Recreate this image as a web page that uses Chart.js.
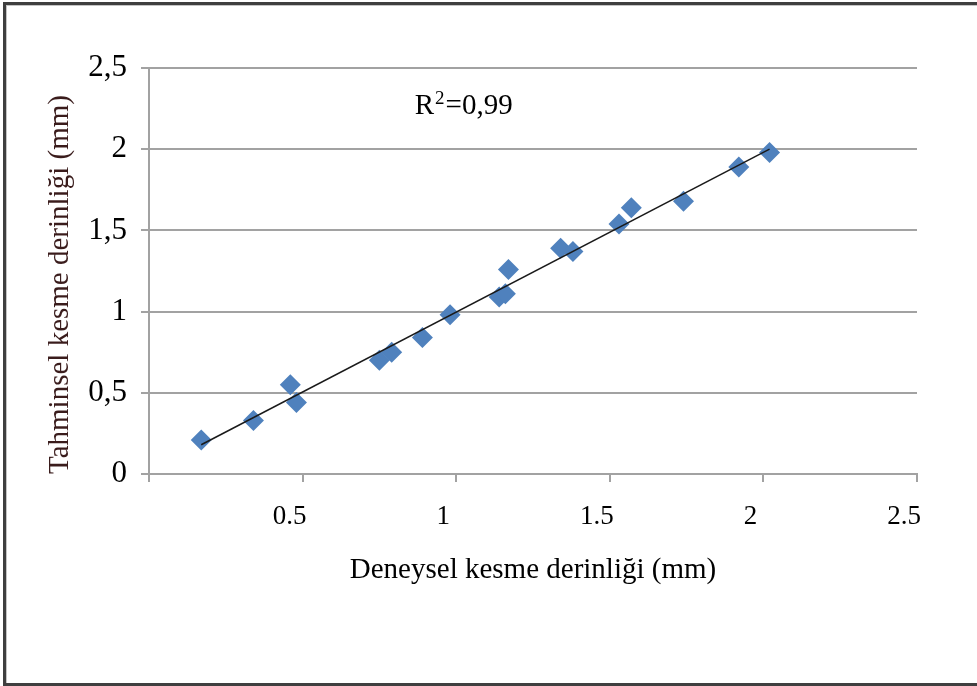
<!DOCTYPE html>
<html>
<head>
<meta charset="utf-8">
<script src="https://cdn.jsdelivr.net/npm/chart.js@4/dist/chart.umd.min.js"></script>
<style>
  html, body { margin:0; padding:0; background:#fff; }
  #wrap { width:977px; height:686px; position:relative; }
</style>
</head>
<body>
<div id="wrap"><canvas id="chartScatter" width="977" height="686"></canvas></div>
<script>
// ── DATA ──────────────────────────────────────────────
var deneysel  = [0.17, 0.34, 0.46, 0.48, 0.75, 0.79, 0.89, 0.98, 1.14, 1.16, 1.17, 1.34, 1.38, 1.53, 1.57, 1.74, 1.92, 2.02];
var tahminsel = [0.21, 0.33, 0.55, 0.44, 0.70, 0.75, 0.84, 0.98, 1.09, 1.11, 1.26, 1.39, 1.37, 1.54, 1.64, 1.68, 1.89, 1.98];
var trendX = [0.17, 2.02];
var trendY = [0.18, 2.00];
var xTickLabels = ['', '0.5', '1', '1.5', '2', '2.5'];
var yTickLabels = ['0', '0,5', '1', '1,5', '2', '2,5'];
var r2Text = '0,99';

var FONT = '"Liberation Serif", "Times New Roman", serif';
var GRID = '#a2a2a2';

function pts(xs, ys){
  return xs.map(function(x, i){ return { x:x, y:ys[i] }; });
}

// frame round the picture + R² note
var extras = {
  id:'extras',
  beforeDraw: function(chart){
    var ctx = chart.ctx;
    ctx.save();
    ctx.fillStyle = '#3f3f3f';
    ctx.fillRect(3, 2, 974, 3);
    ctx.fillRect(3, 2, 3, 684);
    ctx.fillRect(3, 683, 974, 3);
    ctx.fillStyle = '#c4c4c4';
    ctx.fillRect(6, 5, 971, 1);
    ctx.fillRect(6, 5, 1, 678);
    ctx.restore();
  },
  afterDraw: function(chart){
    var ctx = chart.ctx, xs = chart.scales.x, ys = chart.scales.y;
    var px = xs.getPixelForValue(0.865), py = ys.getPixelForValue(2.215);
    ctx.save();
    ctx.fillStyle = '#000';
    ctx.textBaseline = 'alphabetic';
    ctx.font = '29px ' + FONT;
    ctx.fillText('R', px, py);
    var w = ctx.measureText('R').width;
    ctx.font = '19px ' + FONT;
    ctx.fillText('2', px + w + 1, py - 10);
    var w2 = ctx.measureText('2').width;
    ctx.font = '29px ' + FONT;
    ctx.fillText('=' + r2Text, px + w + w2 + 2, py);
    ctx.restore();
  }
};

new Chart(document.getElementById('chartScatter'), {
  type:'scatter',
  data:{
    datasets:[
      { label:'Tahminsel', data:pts(deneysel, tahminsel), pointStyle:'rectRot', pointRadius:10.5, pointHoverRadius:10.5,
        backgroundColor:'#4f81bd', borderColor:'#4f81bd', borderWidth:0, order:2 },
      { label:'Trend', type:'line', data:pts(trendX, trendY), showLine:true, pointRadius:0,
        borderColor:'#1a1a1a', borderWidth:1.5, fill:false, order:1 }
    ]
  },
  plugins:[extras],
  options:{
    responsive:false, animation:false,
    layout:{ padding:{ left:43, top:68, right:60, bottom:98 } },
    plugins:{ legend:{ display:false }, tooltip:{ enabled:false } },
    scales:{
      x:{
        type:'linear', min:0, max:2.5,
        afterBuildTicks:function(s){ s.ticks = [0,0.5,1,1.5,2,2.5].map(function(v){ return {value:v}; }); },
        afterFit:function(s){ s.height = 114; },
        grid:{ drawOnChartArea:false, drawTicks:true, tickLength:8, color:GRID, lineWidth:2 },
        border:{ display:true, color:GRID, width:2 },
        ticks:{ color:'#000', padding:19, labelOffset:-13, maxRotation:0, autoSkip:false,
          font:{ family:FONT, size:27 },
          callback:function(v, i){ return xTickLabels[i]; } },
        title:{ display:true, text:'Deneysel kesme derinliği (mm)', color:'#000', padding:0,
          font:{ family:FONT, size:29 } }
      },
      y:{
        type:'linear', min:0, max:2.5,
        afterBuildTicks:function(s){ s.ticks = [0,0.5,1,1.5,2,2.5].map(function(v){ return {value:v}; }); },
        afterFit:function(s){ s.width = 106; },
        grid:{ drawTicks:true, tickLength:8, color:GRID, lineWidth:2 },
        border:{ display:true, color:GRID, width:2 },
        ticks:{ color:'#000', padding:14, autoSkip:false,
          font:{ family:FONT, size:31 },
          callback:function(v, i){ return yTickLabels[i]; } },
        title:{ display:true, text:'Tahminsel kesme derinliği (mm)', color:'#3a1c1c', padding:0, align:'start',
          font:{ family:FONT, size:29 } }
      }
    }
  }
});
</script>
</body>
</html>
